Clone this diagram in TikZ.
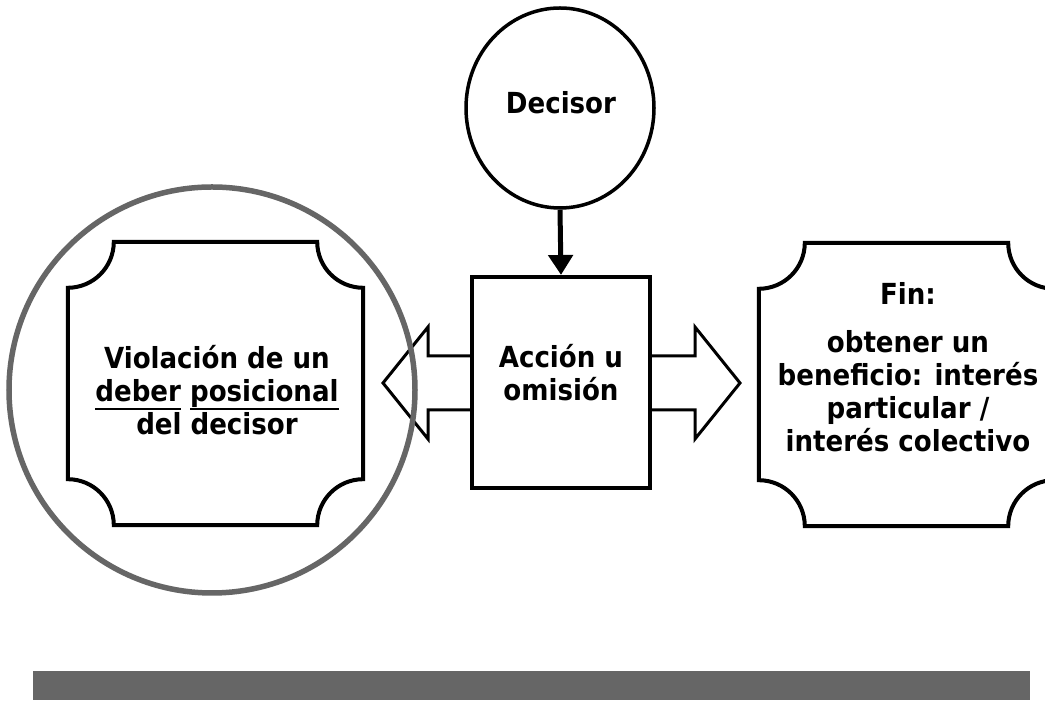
\documentclass[tikz,border=0pt]{standalone}
\usepackage{fontspec}
\setmainfont{DejaVu Sans Condensed}
\usetikzlibrary{arrows.meta,shapes.geometric}
\newsavebox\ulbox
\newcommand\ulword[1]{\sbox\ulbox{#1}\rlap{\rule[-9pt]{\wd\ulbox}{2.6pt}}\usebox\ulbox}
\newcommand\plaquepath[3]{% #1 style, #2 node name, #3 corner radius
  \path[#1] ([xshift=#3]#2.north west) -- ([xshift=-#3]#2.north east)
    arc[start angle=180,end angle=270,radius=#3]
    -- ([yshift=#3]#2.south east)
    arc[start angle=90,end angle=180,radius=#3]
    -- ([xshift=#3]#2.south west)
    arc[start angle=0,end angle=90,radius=#3]
    -- ([yshift=-#3]#2.north west)
    arc[start angle=270,end angle=360,radius=#3] -- cycle;}
\begin{document}
\begin{tikzpicture}[x=1pt,y=1pt,
  txt/.style={font=\fontsize{29}{33}\selectfont\bfseries, align=center, inner sep=0pt},
  plqbox/.style={rectangle, draw=none, minimum width=295pt, minimum height=283pt, inner sep=0pt},
  plqline/.style={draw, line width=4pt, fill=white, line join=miter},
  boxst/.style={rectangle, draw, line width=4pt, fill=white, minimum width=178pt, minimum height=211pt, inner sep=0pt},
  dblarrow/.style={draw, line width=3pt, fill=white, line join=miter},
  ring/.style={draw=black!60, line width=5.5pt},
  decst/.style={ellipse, draw, line width=3.5pt, fill=white, minimum width=188pt, minimum height=200pt, inner sep=0pt},
  link/.style={line width=5pt, -{Triangle[width=24pt,length=20pt]}},
  bar/.style={fill=black!60, draw=none}
]
\clip (0,0) rectangle (1045,722);
\fill[white] (0,0) rectangle (1045,722);

% left plaque
\node[plqbox] (viol) at (215.5,338.5) {};
\plaquepath{plqline}{viol}{46pt}

% right plaque
\node[plqbox] (fin) at (906.5,337.5) {};
\plaquepath{plqline}{fin}{46pt}

% double arrow behind the central box
\coordinate (ltip) at (383,339);
\coordinate (rtip) at (740,339);
\path[dblarrow] (ltip) -- (428,395) -- (428,366) -- (695,366) -- (695,395)
  -- (rtip) -- (695,283) -- (695,312) -- (428,312) -- (428,283) -- cycle;

% central box
\node[boxst] (acc) at (561,339.5) {};

% decisor
\node[decst] (dec) at (560,614) {};
\draw[link] (dec.south) -- (acc.north);

% texts
\node[txt] (dectxt) at (561,619) {Decisor};
\node[txt] (acctxt) at (561,349) {Acción u\\omisión};
\node[txt] (violtxt) at (217,332) {Violación de un\\\ulword{deber} \ulword{posicional}\\del decisor};
\node[txt] (fintxt) at (908,429) {Fin:};
\node[txt] (bentxt) at (908,331) {obtener un\\beneficio: interés\\particular /\\interés colectivo};

% highlight ring
\node[circle, ring, minimum size=406pt, inner sep=0pt] (ringnode) at (212,332) {};

% footer bar
\path[bar] (33,22) rectangle (1030,51);
\end{tikzpicture}
\end{document}
